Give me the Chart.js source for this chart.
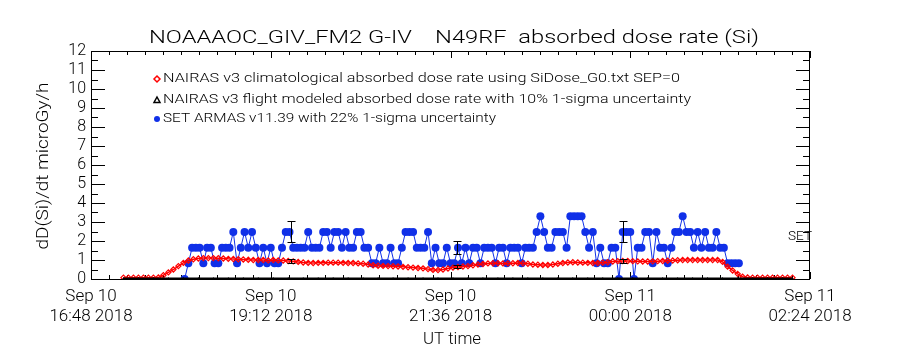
<!DOCTYPE html>
<html><head><meta charset="utf-8">
<script src="https://cdn.jsdelivr.net/npm/chart.js@4.4.1/dist/chart.umd.min.js"></script>
<style>html,body{margin:0;padding:0;background:#fff;}canvas{display:block;}</style>
</head><body>
<canvas id="c" width="900" height="350"></canvas>
<script>
// ---- data (time in minutes after Sep 10 16:48 UT) ----
const xTickValues = [0, 144, 288, 432, 576];
const xTickLabels = [["Sep 10","16:48 2018"],["Sep 10","19:12 2018"],["Sep 10","21:36 2018"],["Sep 11","00:00 2018"],["Sep 11","02:24 2018"]];
const yTickValues = [0,1,2,3,4,5,6,7,8,9,10,11,12];

const chartTitle = "NOAAAOC_GIV_FM2 G-IV    N49RF  absorbed dose rate (Si)";
const yTitle = "dD(Si)/dt microGy/h";
const xTitle = "UT time";
const legendLabels = [
  "NAIRAS v3 climatological absorbed dose rate using SiDose_G0.txt SEP=0",
  "NAIRAS v3 flight modeled absorbed dose rate with 10% 1-sigma uncertainty",
  "SET ARMAS v11.39 with 22% 1-sigma uncertainty"
];

// NAIRAS climatological (red open diamonds)
const redTime = [26,30,34,38,42,46,50,54,58,62,
  66,70,74,78,82,86,90,94,98,102,
  106,110,114,118,122,126,130,134,138,142,
  146,150,154,158,162,166,170,174,178,182,
  186,190,194,198,202,206,210,214,218,222,
  226,230,234,238,242,246,250,254,258,262,
  266,270,274,278,282,286,290,294,298,302,
  306,310,314,318,322,326,330,334,338,342,
  346,350,354,358,362,366,370,374,378,382,
  386,390,394,398,402,406,410,414,418,422,
  426,430,434,438,442,446,450,454,458,462,
  466,470,474,478,482,486,490,494,498,502,
  506,510,514,518,522,526,530,534,538,542,
  546,550,554,558,562];
const redDose = [.07,.07,.07,.07,.07,.07,.07,.08,.2,.35,
  .5,.68,.85,.97,1.04,1.08,1.1,1.1,1.1,1.09,
  1.08,1.06,1.05,1.04,1.03,1.01,1.0,1.0,1.0,.98,
  1.0,.98,.97,.95,.93,.9,.87,.85,.84,.85,
  .85,.86,.86,.86,.85,.84,.84,.82,.8,.76,
  .72,.7,.69,.68,.67,.66,.64,.62,.6,.58,
  .56,.52,.48,.47,.5,.55,.6,.63,.66,.68,
  .72,.76,.79,.82,.83,.83,.82,.82,.83,.84,
  .83,.8,.76,.75,.74,.74,.76,.8,.84,.87,
  .88,.87,.86,.85,.84,.84,.86,.88,.92,.94,
  .95,.95,.94,.93,.92,.92,.93,.94,.95,.96,
  .97,.99,1.0,1.0,1.0,1.0,1.0,1.0,1.0,1.0,
  .9,.65,.45,.27,.12,.08,.07,.07,.07,.07,
  .07,.07,.07,.07,.07];

// NAIRAS flight modeled (black triangles)
const blackTime = [26,38,50,62,74,86,98,110,122,134,146,158,170,182,194,206,218,230,242,254,266,278,290,302,314,326,338,350,362,374,386,398,410,422,434,446,458,470,482,494,506,518,530,542,554,562];
const blackDose = [.03,.03,.03,.03,.03,.03,.03,.03,.03,.03,.03,.03,.03,.03,.03,.03,.03,.03,.03,.03,.03,.03,.03,.03,.03,.03,.03,.03,.03,.03,.03,.03,.03,.03,.03,.03,.03,.03,.03,.03,.03,.03,.03,.03,.03,.03];

// SET ARMAS (blue filled circles)
const blueTime = [75,78,81,84,87,90,93,96,99,102,
  105,108,111,114,117,120,123,126,129,132,
  135,138,141,144,147,150,153,156,159,162,
  165,168,171,174,177,180,183,186,189,192,
  195,198,201,204,207,210,213,216,219,222,
  225,228,231,234,237,240,243,246,249,252,
  255,258,261,264,267,270,273,276,279,282,
  285,288,291,294,297,300,303,306,309,312,
  315,318,321,324,327,330,333,336,339,342,
  345,348,351,354,357,360,363,366,369,372,
  375,378,381,384,387,390,393,396,399,402,
  405,408,411,414,417,420,423,426,429,432,
  435,438,441,444,447,450,453,456,459,462,
  465,468,471,474,477,480,483,486,489,492,
  495,498,501,504,507,510,513,516,519];
const blueDose = [0,.83,1.65,1.65,1.65,.83,1.65,1.65,.83,.83,
  1.65,1.65,1.65,2.48,.83,1.65,2.48,1.65,2.48,1.65,
  .83,1.65,.83,1.65,.83,.83,1.65,2.48,2.48,1.65,
  1.65,1.65,1.65,2.48,1.65,1.65,1.65,2.48,2.48,1.65,
  2.48,2.48,1.65,2.48,1.65,1.65,2.48,2.48,1.65,1.65,
  .83,.83,1.65,.83,.83,1.65,.83,.83,1.65,2.48,
  2.48,2.48,1.65,1.65,1.65,2.48,.83,1.65,.83,.83,
  1.65,.83,.83,1.65,.83,1.65,.83,1.65,1.65,.83,
  1.65,1.65,1.65,.83,1.65,1.65,.83,1.65,1.65,1.65,
  .83,1.65,1.65,1.65,2.48,3.3,2.48,1.65,1.65,2.48,
  2.48,2.48,1.65,3.3,3.3,3.3,3.3,2.48,1.65,2.48,
  .83,1.65,.83,.83,1.65,1.65,0,2.48,2.48,2.48,
  0,1.65,1.65,2.48,2.48,.83,2.48,1.65,1.65,.83,
  1.65,2.48,2.48,3.3,2.48,2.48,1.65,2.48,1.65,2.48,
  1.65,1.65,2.48,1.65,1.65,.83,.83,.83,.83];

// sample 1-sigma error bars
const errTime = [160, 293, 426];
const errBlueMid = [2.48, 1.65, 2.48];
const errBlueHalf = [0.55, 0.36, 0.55];
const errRedMid = [0.95, 0.66, 0.95];
const errRedHalf = [0.1, 0.08, 0.1];

const sideNote = "SET";

// ---- styles ----
const RED = '#ff0000', BLUE = '#1030e8', BLACK = '#000000';
const TXT = '"Roboto", "Liberation Sans", sans-serif';

function pts(xs, ys){ return xs.map((x,i)=>({x:x, y:ys[i]})); }

function drawScaledText(ctx, text, font, x, y, width, align){
  ctx.save();
  ctx.font = font;
  ctx.textBaseline = 'middle';
  ctx.textAlign = 'left';
  const w = ctx.measureText(text).width;
  const sx = width / w;
  const x0 = align === 'center' ? x - width/2 : x;
  ctx.translate(x0, y);
  ctx.scale(sx, 1);
  ctx.fillText(text, 0, 0);
  ctx.restore();
}

const framePlugin = {
  id: 'frame',
  beforeDatasetsDraw(chart){
    const {ctx, chartArea:a, scales:{x, y}} = chart;
    ctx.save();
    ctx.strokeStyle = BLACK; ctx.lineWidth = 1;
    ctx.strokeRect(Math.round(a.left)+0.5, Math.round(a.top)+0.5, Math.round(a.right-a.left)-1, Math.round(a.bottom-a.top));
    ctx.beginPath();
    for (let k = 0; k <= 40; k++){
      const t = k * 14.4;
      const px = Math.round(x.getPixelForValue(t)) + 0.5;
      const len = (k % 10 === 0) ? 7 : 4;
      ctx.moveTo(px, a.bottom); ctx.lineTo(px, a.bottom - len);
      ctx.moveTo(px, a.top); ctx.lineTo(px, a.top + len);
    }
    for (let k = 0; k <= 24; k++){
      const v = k * 0.5;
      const py = Math.round(y.getPixelForValue(v)) + 0.5;
      const len = (k % 2 === 0) ? 14 : 7;
      ctx.moveTo(a.left, py); ctx.lineTo(a.left + len, py);
      ctx.moveTo(a.right, py); ctx.lineTo(a.right - len, py);
    }
    ctx.stroke();
    ctx.restore();
  },
  afterDatasetsDraw(chart){
    const {ctx, scales:{x, y}} = chart;
    ctx.save();
    ctx.strokeStyle = BLACK; ctx.lineWidth = 1;
    ctx.beginPath();
    const bar = (t, mid, half) => {
      const px = Math.round(x.getPixelForValue(t)) + 0.5;
      const y1 = Math.round(y.getPixelForValue(mid + half)) + 0.5;
      const y2 = Math.round(y.getPixelForValue(mid - half)) + 0.5;
      ctx.moveTo(px, y1); ctx.lineTo(px, y2);
      ctx.moveTo(px - 4, y1); ctx.lineTo(px + 4, y1);
      ctx.moveTo(px - 4, y2); ctx.lineTo(px + 4, y2);
    };
    errTime.forEach((t,i)=>{ bar(t, errBlueMid[i], errBlueHalf[i]); bar(t, errRedMid[i], errRedHalf[i]); });
    ctx.stroke();
    ctx.restore();
  },
  afterDraw(chart){
    const {ctx} = chart;
    ctx.save();
    ctx.fillStyle = BLACK;
    drawScaledText(ctx, chartTitle, '300 19px ' + TXT, 454, 38, 610, 'center');
    drawScaledText(ctx, xTitle, '300 16px ' + TXT, 452, 340, 58, 'center');
    ctx.save();
    ctx.translate(44, 166);
    ctx.rotate(-Math.PI/2);
    drawScaledText(ctx, yTitle, '300 17px ' + TXT, 0, 0, 167, 'center');
    ctx.restore();
    const ly = [79, 100, 119];
    const lw = [517, 528, 333];
    legendLabels.forEach((txt,i)=>{
      drawScaledText(ctx, txt, '300 12px ' + TXT, 163, ly[i], lw[i], 'left');
    });
    ctx.lineWidth = 1.5;
    ctx.strokeStyle = RED;
    ctx.beginPath();
    ctx.moveTo(157, ly[0]-3); ctx.lineTo(160, ly[0]); ctx.lineTo(157, ly[0]+3); ctx.lineTo(154, ly[0]); ctx.closePath();
    ctx.stroke();
    ctx.strokeStyle = BLACK;
    ctx.beginPath();
    ctx.moveTo(157, ly[1]-3); ctx.lineTo(160, ly[1]+2.5); ctx.lineTo(154, ly[1]+2.5); ctx.closePath();
    ctx.stroke();
    ctx.fillStyle = BLUE;
    ctx.beginPath(); ctx.arc(157, ly[2], 3, 0, Math.PI*2); ctx.fill();
    ctx.fillStyle = BLACK;
    drawScaledText(ctx, sideNote, '300 13px ' + TXT, 788, 237, 24, 'left');
    ctx.restore();
  }
};

new Chart(document.getElementById('c'), {
  type: 'line',
  data: {
    datasets: [
      { label: legendLabels[2], data: pts(blueTime, blueDose), borderColor: BLUE, borderWidth: 1,
        pointStyle: 'circle', pointRadius: 4, pointBackgroundColor: BLUE, pointBorderColor: BLUE, pointBorderWidth: 0,
        tension: 0, order: 3 },
      { label: legendLabels[0], data: pts(redTime, redDose), borderColor: RED, borderWidth: 1.5,
        pointStyle: 'rectRot', pointRadius: 2.6, pointBackgroundColor: 'rgba(0,0,0,0)', pointBorderColor: RED, pointBorderWidth: 1.2,
        tension: 0, order: 2 },
      { label: legendLabels[1], data: pts(blackTime, blackDose), borderColor: BLACK, borderWidth: 2,
        pointStyle: 'triangle', pointRadius: 1.5, pointBackgroundColor: BLACK, pointBorderColor: BLACK, pointBorderWidth: 0,
        tension: 0, clip: false, order: 1 }
    ]
  },
  options: {
    responsive: false, animation: false, devicePixelRatio: 1,
    layout: { padding: { left: 0, right: 90, top: 51, bottom: 0 } },
    plugins: { legend: { display: false }, tooltip: { enabled: false }, title: { display: false } },
    scales: {
      x: {
        type: 'linear', min: 0, max: 576,
        afterBuildTicks: s => { s.ticks = xTickValues.map(v => ({ value: v })); },
        afterFit: s => { s.height = 71; },
        ticks: { callback: v => xTickLabels[xTickValues.indexOf(v)], color: BLACK, padding: 8, maxRotation: 0, autoSkip: false,
          font: { family: TXT, size: 17, weight: 300, lineHeight: 1.15 } },
        grid: { display: false, drawTicks: false }, border: { display: false }
      },
      y: {
        type: 'linear', min: 0, max: 12,
        afterBuildTicks: s => { s.ticks = yTickValues.map(v => ({ value: v })); },
        afterFit: s => { s.width = 91; },
        ticks: { color: BLACK, padding: 5, autoSkip: false, font: { family: TXT, size: 16, weight: 300 } },
        grid: { display: false, drawTicks: false }, border: { display: false }
      }
    }
  },
  plugins: [framePlugin]
});
</script>
</body></html>
